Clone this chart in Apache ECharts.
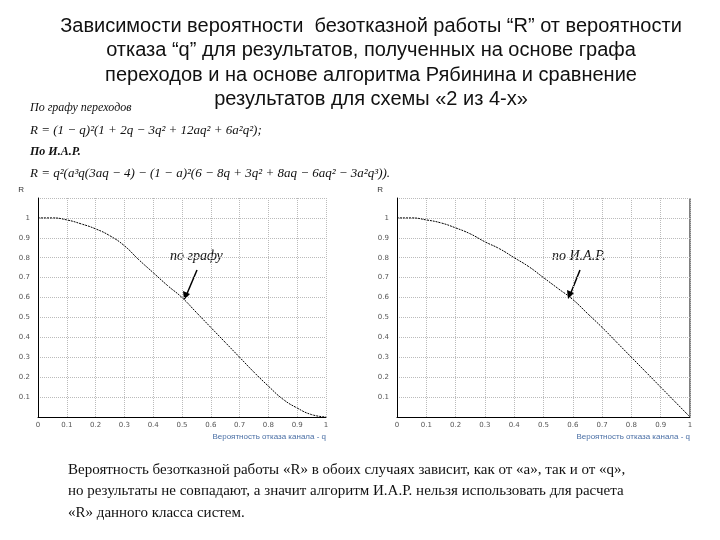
<!DOCTYPE html>
<html><head><meta charset="utf-8">
<script src="https://cdn.jsdelivr.net/npm/echarts@6/dist/echarts.min.js"></script>
<style>html,body{margin:0;padding:0;background:#fff}#c{width:720px;height:540px}</style>
</head><body><div id="c"></div>
<script>
const qValues = [0, 0.05, 0.1, 0.15, 0.2, 0.25, 0.3, 0.35, 0.4, 0.45, 0.5, 0.55, 0.6, 0.65, 0.7, 0.75, 0.8, 0.85, 0.9, 0.95, 1];
const rGraph = [1, 1, 0.99, 0.97, 0.945, 0.91, 0.86, 0.79, 0.725, 0.66, 0.6, 0.525, 0.45, 0.375, 0.3, 0.225, 0.155, 0.09, 0.045, 0.012, 0];
const rIAR   = [1, 1, 0.99, 0.975, 0.95, 0.92, 0.88, 0.845, 0.8, 0.755, 0.70, 0.645, 0.59, 0.52, 0.45, 0.375, 0.30, 0.225, 0.15, 0.075, 0];
const xTicks = ['0','0.1','0.2','0.3','0.4','0.5','0.6','0.7','0.8','0.9','1'];
const xName = 'Вероятность отказа канала - q';

const chart = echarts.init(document.getElementById('c'));
const lbl = {fontSize: 7, color: '#555', fontFamily: 'DejaVu Sans'};
function xAxis(i){return {gridIndex:i,type:'value',min:0,max:1,interval:0.1,
  axisLine:{lineStyle:{color:'#000'}},axisTick:{show:false},
  axisLabel:Object.assign({margin:5,formatter:v=>xTicks[Math.round(v*10)]},lbl),
  splitLine:{show:true,lineStyle:{type:'dotted',color:'#bbb'}},
  name:xName,nameLocation:'end',nameGap:0,nameTextStyle:{fontSize:8,color:'#4a6fa5',padding:[16,0,0,0],align:'right',verticalAlign:'top'}};}
function yAxis(i){return {gridIndex:i,type:'value',min:0,max:1.1,interval:0.1,
  axisLine:{show:true,lineStyle:{color:'#000'}},axisTick:{show:false},
  axisLabel:Object.assign({margin:8,formatter:v=>(v===0||v>1.01)?'':(Math.abs(v-1)<1e-6?'1':v.toFixed(1))},lbl),
  splitLine:{show:true,lineStyle:{type:'dotted',color:'#bbb'}},
  name:'R',nameGap:4,nameTextStyle:{fontSize:8,color:'#333',align:'right',padding:[0,14,0,0]}};}
const pairs = a => qValues.map((q,i)=>[q,a[i]]);
chart.setOption({
  animation:false,
  title:[{text:'Зависимости вероятности  безотказной работы “R” от вероятности\nотказа “q” для результатов, полученных на основе графа\nпереходов и на основе алгоритма Рябинина и сравнение\nрезультатов для схемы «2 из 4-х»',
    left:366,top:9,textAlign:'center',textStyle:{fontSize:20,fontWeight:'normal',fontFamily:'Liberation Sans',lineHeight:24.5,color:'#111'}}],
  grid:[{left:38,right:394,top:198,bottom:123},{left:397,right:30,top:198,bottom:123}],
  xAxis:[xAxis(0),xAxis(1)],
  yAxis:[yAxis(0),yAxis(1)],
  series:[
    {type:'line',xAxisIndex:0,yAxisIndex:0,data:pairs(rGraph),smooth:true,showSymbol:false,lineStyle:{color:'#000',width:1,type:[2,1]}},
    {type:'line',xAxisIndex:1,yAxisIndex:1,data:pairs(rIAR),smooth:true,showSymbol:false,lineStyle:{color:'#000',width:1,type:[2,1]}}
  ],
  graphic:[
    {type:'line',shape:{x1:690,y1:198,x2:690,y2:417},style:{stroke:'#000',lineWidth:1}},
    {type:'text',left:30,top:102,style:{text:'По графу переходов',font:'italic 12px "Liberation Serif"',fill:'#111'}},
    {type:'text',left:30,top:124,style:{text:'R = (1 − q)²(1 + 2q − 3q² + 12aq² + 6a²q²);',font:'italic 13px "Liberation Serif"',fill:'#111'}},
    {type:'text',left:30,top:146,style:{text:'По И.А.Р.',font:'italic bold 12px "Liberation Serif"',fill:'#111'}},
    {type:'text',left:30,top:167,style:{text:'R = q²(a³q(3aq − 4) − (1 − a)²(6 − 8q + 3q² + 8aq − 6aq² − 3a²q³)).',font:'italic 13px "Liberation Serif"',fill:'#111'}},
    {type:'text',left:170,top:249,style:{text:'по графу',font:'italic 14px "Liberation Serif"',fill:'#111'}},
    {type:'line',shape:{x1:197,y1:270,x2:186,y2:296},style:{stroke:'#000',lineWidth:1.5}},
    {type:'polygon',shape:{points:[[184,300],[183,291],[190,294]]},style:{fill:'#000'}},
    {type:'text',left:552,top:249,style:{text:'по И.А.Р.',font:'italic 14px "Liberation Serif"',fill:'#111'}},
    {type:'line',shape:{x1:580,y1:270,x2:570,y2:295},style:{stroke:'#000',lineWidth:1.5}},
    {type:'polygon',shape:{points:[[568,299],[567,290],[574,293]]},style:{fill:'#000'}},
    {type:'text',left:68,top:459,style:{text:'Вероятность безотказной работы «R» в обоих случаях зависит, как от «a», так и от «q»,\nно результаты не совпадают, а значит алгоритм И.А.Р. нельзя использовать для расчета\n«R» данного класса систем.',font:'15px "Liberation Serif"',lineHeight:21.5,fill:'#111'}}
  ]
});
</script></body></html>
